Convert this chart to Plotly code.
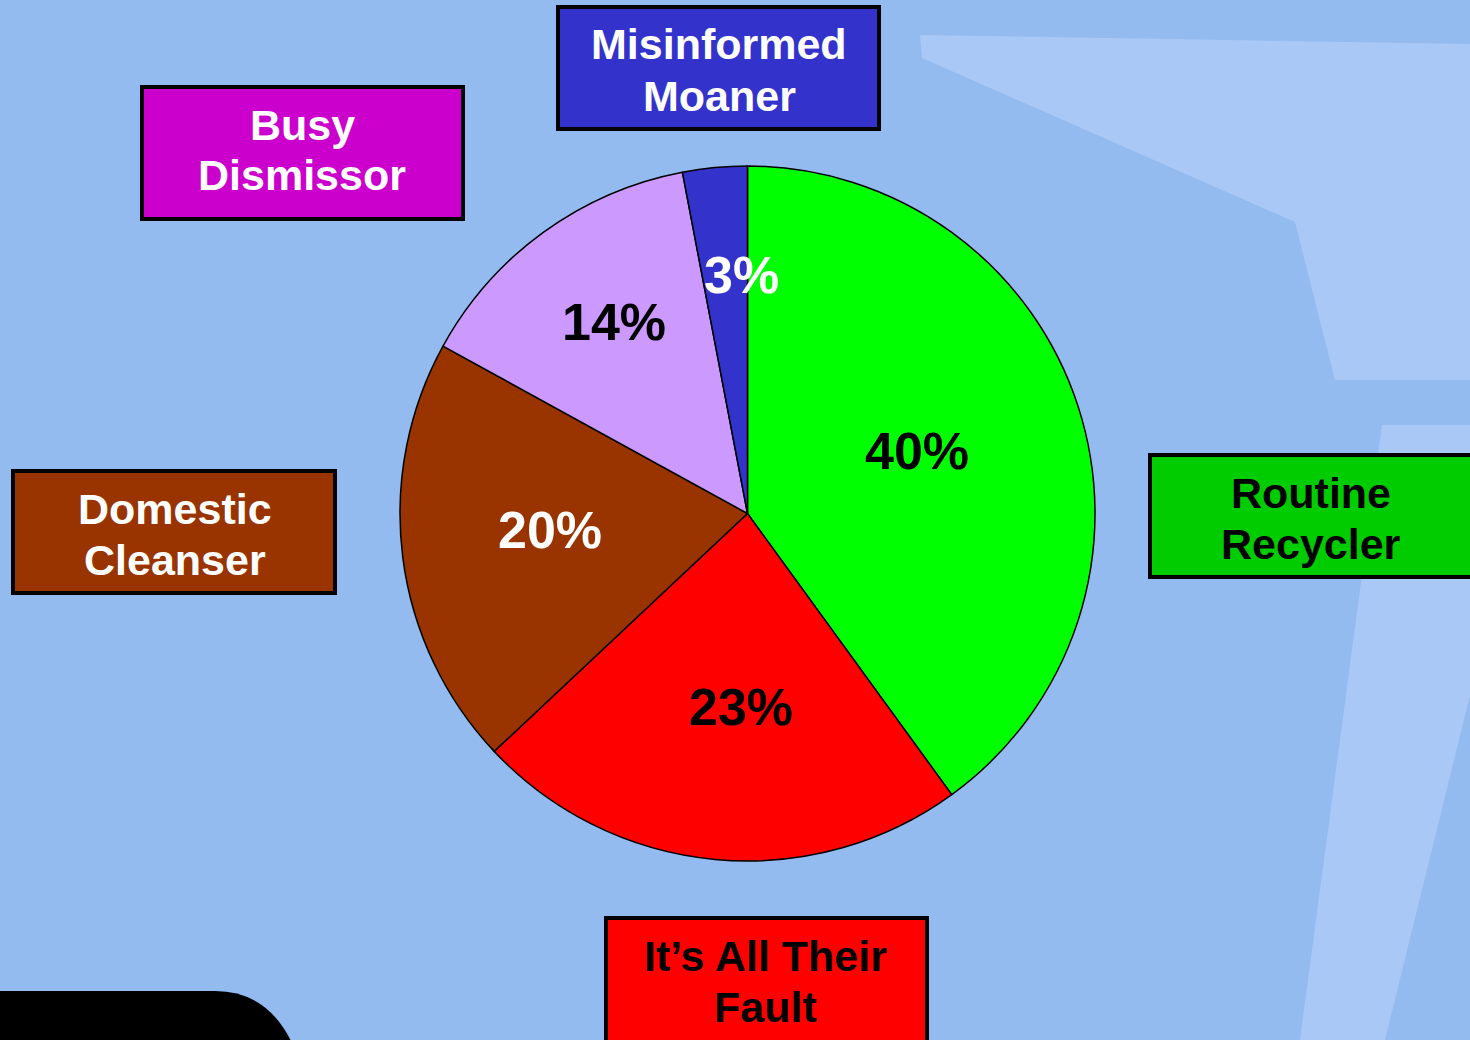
import math
import plotly.graph_objects as go

# ---- data ----
segments = ["Routine Recycler", "It’s All Their Fault", "Domestic Cleanser", "Busy Dismissor", "Misinformed Moaner"]
box_lines = [["Routine", "Recycler"], ["It’s All Their", "Fault"], ["Domestic", "Cleanser"],
             ["Busy", "Dismissor"], ["Misinformed", "Moaner"]]
shares = [40, 23, 20, 14, 3]

# ---- styles ----
slice_colors = ["#00FF00", "#FF0000", "#993300", "#CC99FF", "#3333CC"]
pct_colors = ["black", "black", "white", "black", "white"]
box_fill = ["#00CC00", "#FF0000", "#993300", "#CC00CC", "#3333CC"]
box_text_color = ["black", "black", "white", "white", "white"]
# label boxes in pixels: x0, x1, y0, y1 (from top)
box_px = [(1150, 1472, 455, 577), (606, 927, 918, 1045), (13, 335, 471, 593),
          (142, 463, 87, 219), (558, 879, 7, 129)]
# visual text centers in pixels
box_text_c = [(1311, 519), (766, 981.5), (175, 535), (302, 150.5), (719, 70.5)]
LINE_GAP = 51
pct_radius = [0.52, 0.56, 0.57, 0.67, 0.685]
pct_angle_shift = [-2.0, -3.6, 2.0, 1.0, 3.9]

W, H = 1470, 1040
CX, CY, R = 747.5, 513.5, 347.5
BG = "#93BBF0"
LIGHT = "#A9C8F5"
FONT = "Liberation Sans, Arial, sans-serif"


def px(x):
    return x / W


def py(y):
    return 1 - y / H


fig = go.Figure()
fig.add_trace(go.Pie(
    labels=segments, values=shares, sort=False, direction="clockwise", rotation=0,
    marker=dict(colors=slice_colors, line=dict(color="black", width=1.5)),
    textinfo="none", hoverinfo="label+percent", showlegend=False,
    domain=dict(x=[px(CX - R), px(CX + R)], y=[py(CY + R), py(CY - R)]),
))

shapes = []


def poly(points, color):
    d = "M " + " L ".join(f"{px(x)},{py(y)}" for x, y in points) + " Z"
    return dict(type="path", xref="paper", yref="paper", path=d,
                fillcolor=color, line=dict(width=0), layer="below")


shapes.append(poly([(920, 35), (1470, 44), (1470, 380), (1335, 380), (1295, 222), (922, 58)], LIGHT))
shapes.append(poly([(1382, 425), (1470, 425), (1470, 695), (1385, 1040), (1300, 1040)], LIGHT))
# black rounded shape bottom-left
d = (f"M {px(-5)},{py(991)} L {px(215)},{py(991)} "
     f"Q {px(268)},{py(991)} {px(293)},{py(1045)} L {px(-5)},{py(1045)} Z")
shapes.append(dict(type="path", xref="paper", yref="paper", path=d,
                   fillcolor="black", line=dict(width=0), layer="below"))

annotations = []
for i, (x0, x1, y0, y1) in enumerate(box_px):
    shapes.append(dict(type="rect", xref="paper", yref="paper",
                       x0=px(x0), x1=px(x1), y0=py(y1), y1=py(y0),
                       fillcolor=box_fill[i], line=dict(color="black", width=4), layer="above"))
    cx, cy = box_text_c[i]
    n = len(box_lines[i])
    for j, line in enumerate(box_lines[i]):
        ly = cy + (j - (n - 1) / 2) * LINE_GAP - 0.5
        annotations.append(dict(x=px(cx), y=py(ly), xref="paper", yref="paper",
                                text=f"<b>{line}</b>", showarrow=False,
                                xanchor="center", yanchor="middle",
                                font=dict(family=FONT, size=43, color=box_text_color[i])))

total = sum(shares)
cum = 0
for i, v in enumerate(shares):
    mid = (cum + v / 2) / total * 360 + pct_angle_shift[i]
    cum += v
    r = pct_radius[i] * R
    x = CX + r * math.sin(math.radians(mid))
    y = CY - r * math.cos(math.radians(mid))
    annotations.append(dict(x=px(x), y=py(y - 1), xref="paper", yref="paper",
                            text=f"<b>{v}%</b>", showarrow=False,
                            xanchor="center", yanchor="middle",
                            font=dict(family=FONT, size=52, color=pct_colors[i])))

fig.update_layout(
    width=W, height=H, margin=dict(l=0, r=0, t=0, b=0),
    paper_bgcolor=BG, plot_bgcolor=BG,
    shapes=shapes, annotations=annotations,
)

fig.write_html("out.html", config={"displayModeBar": False},
               post_script="document.body.style.margin='0';document.body.style.overflow='hidden';")
